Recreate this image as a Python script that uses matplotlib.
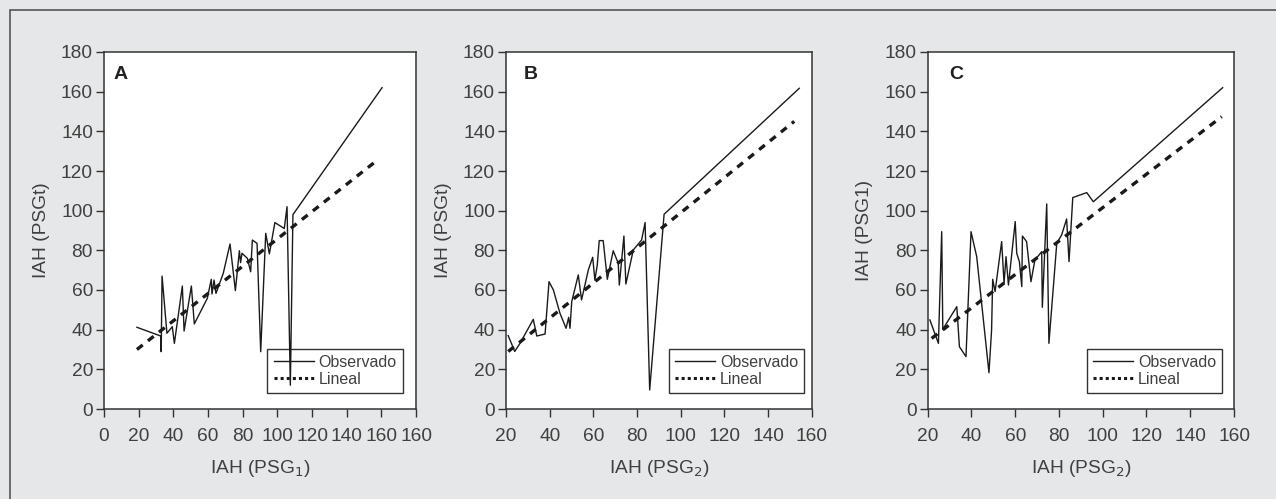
import matplotlib.pyplot as plt
from matplotlib.patches import Rectangle

plt.rcParams['font.family'] = ['Liberation Sans', 'DejaVu Sans']

# Panel A: IAH (PSGt) vs IAH (PSG1)
obs_a_x = [19, 32.7, 33, 33.5, 36.3, 39.4, 40.6, 45.2, 46.2, 50.4, 52.1, 59.6, 61.9, 62.3, 63.5,
           64.6, 68.8, 72.7, 75.8, 78.1, 78.8, 79.6, 82.7, 84.6, 85.6, 88.3, 90.4, 93.3, 95.4,
           98.6, 104, 105.6, 107.5, 109, 160.4]
obs_a_y = [41.2, 36.8, 28.9, 67, 38.2, 41.5, 33.1, 62, 39.3, 62, 42.9, 55.8, 65.4, 58, 65,
           58.3, 68.4, 83.2, 59.7, 79.8, 73.8, 78.5, 76, 69.2, 85.2, 83.5, 28.9, 88.6, 78.2,
           94, 91, 102, 12, 98, 162]
lin_a_x = [19, 157]
lin_a_y = [30, 125]

# Panel B: IAH (PSGt) vs IAH (PSG2)
obs_b_x = [21, 24, 26.4, 32.5, 34.1, 37.9, 39.7, 41.7, 44.7, 47.5, 48.7, 49.3, 50.1, 53.1, 54.6,
           57.7, 59.7, 60.7, 61.8, 62.7, 64.5, 66.4, 69.1, 71.4, 71.9, 74, 74.9, 78.3, 82.1,
           83.7, 85.8, 92.4, 154.3]
obs_b_y = [37, 29, 33.1, 45.2, 36.8, 37.8, 64.2, 60, 48.3, 40.7, 46.2, 40.7, 54.1, 67.6, 55,
           70.1, 76.5, 65, 72.6, 84.9, 84.9, 65.4, 79.8, 73.5, 62.5, 87.2, 63, 80.2, 85.2,
           94, 9.6, 98.2, 161.7]
lin_b_x = [21, 152]
lin_b_y = [29, 145]

# Panel C: IAH (PSG1) vs IAH (PSG2)
obs_c_x = [21, 24.9, 26.4, 26.9, 33.3, 34.5, 37.5, 39.8, 42.4, 48, 49.2, 49.7, 50.8, 53.8, 54.9,
           55.8, 56.9, 60, 60.7, 61.9, 63, 63.3, 65.2, 67.2, 69, 72.1, 72.4, 74.4, 75.4, 79,
           81.2, 83.5, 84.6, 86.3, 92.7, 95.7, 154.8]
obs_c_y = [44.9, 33.1, 89.4, 40.2, 51.6, 31.4, 26.4, 89.4, 76.8, 18.3, 39.8, 65.4, 59.2, 84.4,
           63.4, 76.8, 62.5, 94.5, 78.5, 74.3, 61.7, 87.2, 84.4, 64.2, 75.1, 79.3, 51.3, 103.4,
           33.1, 83.6, 87.7, 95.8, 74.3, 106.6, 109.1, 104.5, 162]
lin_c_x = [21.8, 154.4]
lin_c_y = [35.6, 147.4]

xticks_a = [0, 20, 40, 60, 80, 100, 120, 140, 160, 180]
xlabels_a = ['0', '20', '40', '60', '80', '100', '120', '140', '160', '160']
xticks_bc = [20, 40, 60, 80, 100, 120, 140, 160]
yticks = [0, 20, 40, 60, 80, 100, 120, 140, 160, 180]

bg = '#e6e7e8'
txt = '#404040'

W, H = 1276, 499
fig = plt.figure(figsize=(W / 100, H / 100), dpi=100, facecolor=bg)
fig.patches.append(Rectangle((10 / W, -0.1), 1.2, 1 - 10 / H + 0.1, transform=fig.transFigure,
                             fill=False, edgecolor='#555555', linewidth=1.2))

panels = [
    dict(box=(104, 416), obs=(obs_a_x, obs_a_y), lin=(lin_a_x, lin_a_y), xlim=(0, 180),
         xt=xticks_a, xl=xlabels_a, xlab='IAH (PSG$_1$)', ylab='IAH (PSGt)', letter='A',
         lx=0.032, leg=(0.958, 0.045)),
    dict(box=(506, 811.7), obs=(obs_b_x, obs_b_y), lin=(lin_b_x, lin_b_y), xlim=(20, 160),
         xt=xticks_bc, xl=[str(t) for t in xticks_bc], xlab='IAH (PSG$_2$)', ylab='IAH (PSGt)',
         letter='B', lx=0.057, leg=(0.976, 0.045)),
    dict(box=(927.7, 1234), obs=(obs_c_x, obs_c_y), lin=(lin_c_x, lin_c_y), xlim=(20, 160),
         xt=xticks_bc, xl=[str(t) for t in xticks_bc], xlab='IAH (PSG$_2$)', ylab='IAH (PSG1)',
         letter='C', lx=0.07, leg=(0.962, 0.045)),
]

top, bottom = 52, 409
for p in panels:
    l, r = p['box']
    ax = fig.add_axes([l / W, 1 - bottom / H, (r - l) / W, (bottom - top) / H])
    ax.set_facecolor('white')
    l1, = ax.plot(p['obs'][0], p['obs'][1], color='#1a1a1a', lw=1.0, zorder=3, label='Observado')
    l2, = ax.plot(p['lin'][0], p['lin'][1], color='#1a1a1a', lw=2.4, zorder=3,
                  linestyle=(0, (2.2, 2.0)), label='Lineal')
    ax.set_xlim(*p['xlim'])
    ax.set_ylim(0, 180)
    ax.set_xticks(p['xt'])
    ax.set_xticklabels(p['xl'])
    ax.set_yticks(yticks)
    ax.tick_params(direction='out', length=6, width=1.0, color='#333333', labelcolor=txt,
                   labelsize=13.8)
    ax.tick_params(axis='x', pad=8)
    ax.tick_params(axis='y', pad=2)
    for s in ax.spines.values():
        s.set_color('#333333')
        s.set_linewidth(1.1)
    ax.set_xlabel(p['xlab'], fontsize=13.8, color=txt, labelpad=9)
    ax.set_ylabel(p['ylab'], fontsize=13.8, color=txt, labelpad=8)
    ax.text(p['lx'], 0.962, p['letter'], transform=ax.transAxes, fontsize=14,
            fontweight='bold', color='#222222', va='top', ha='left')
    leg = ax.legend(handles=[l1, l2], loc='lower right', bbox_to_anchor=p['leg'],
                    borderaxespad=0, fontsize=11.5, frameon=True, fancybox=False,
                    edgecolor='#333333', framealpha=1, handlelength=2.5, handletextpad=0.3,
                    labelspacing=0.1, borderpad=0.4, labelcolor=txt)
    leg.get_frame().set_linewidth(1.0)
    leg.get_lines()[1].set_linestyle((0, (1, 1)))
    leg.get_lines()[1].set_linewidth(2.2)
    leg.set_zorder(2)

fig.savefig('out.png', dpi=100, facecolor=bg)
